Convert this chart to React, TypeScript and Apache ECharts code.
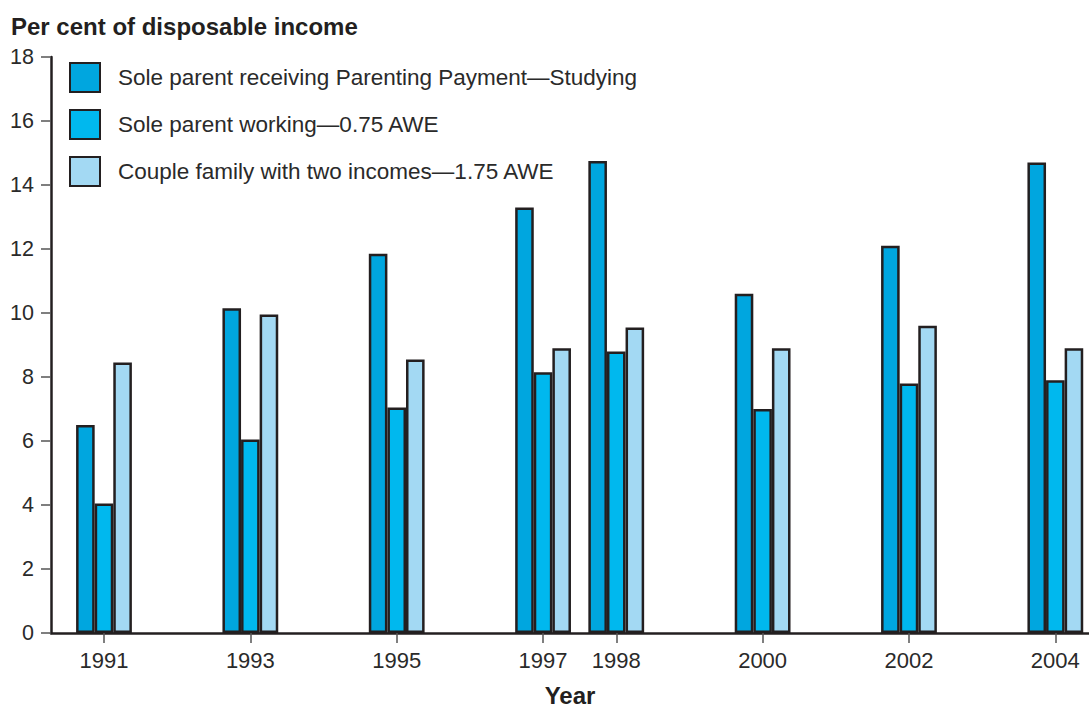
import React, { useEffect, useRef } from "react";
import * as echarts from "echarts";

const years = ["1991", "1993", "1995", "1997", "1998", "2000", "2002", "2004"];
// slot index of each year on the x axis (one empty slot between most years)
const slots = [0, 2, 4, 6, 7, 9, 11, 13];
const seriesNames = [
  "Sole parent receiving Parenting Payment\u2014Studying",
  "Sole parent working\u20140.75 AWE",
  "Couple family with two incomes\u20141.75 AWE",
];
const studying = [6.5, 10.15, 11.85, 13.3, 14.75, 10.6, 12.1, 14.7];
const working = [4.05, 6.05, 7.05, 8.15, 8.8, 7.0, 7.8, 7.9];
const couple = [8.45, 9.95, 8.55, 8.9, 9.55, 8.9, 9.6, 8.9];
const yTicks = [0, 2, 4, 6, 8, 10, 12, 14, 16, 18];

const colors = ["#00a6df", "#00b8ee", "#a3d9f3"];
const ink = "#231f20";
const font = "'Liberation Sans', Arial, Helvetica, sans-serif";

export default function App() {
  const ref = useRef<HTMLDivElement>(null);
  useEffect(() => {
    if (!ref.current) return;
    const chart = echarts.init(ref.current, null, { renderer: "svg" });
    const allSeries = [studying, working, couple];
    chart.setOption({
      animation: false,
      title: {
        text: "Per cent of disposable income",
        left: 11,
        top: 14,
        padding: 0,
        textStyle: { fontFamily: font, fontSize: 24, fontWeight: "bold", color: ink },
      },
      legend: {
        orient: "vertical",
        left: 69,
        top: 62,
        padding: 0,
        itemWidth: 30,
        itemHeight: 29,
        itemGap: 16,
        icon: "rect",
        textStyle: { fontFamily: font, fontSize: 22.5, color: "#2a2a2a", padding: [0, 0, 0, 13] },
        data: seriesNames,
      },
      grid: { left: 51, right: 0, top: 57, bottom: 76, containLabel: false, outerBoundsMode: "none" },
      xAxis: {
        type: "value",
        min: -0.724,
        max: 13.46,
        name: "Year",
        nameLocation: "middle",
        nameGap: 50,
        nameTextStyle: { fontFamily: font, fontSize: 24, fontWeight: "bold", color: ink, lineHeight: 24 },
        axisLine: { show: true, onZero: false, lineStyle: { color: ink, width: 2.5 } },
        axisTick: { show: true, length: 10, lineStyle: { color: "#555", width: 1.5 }, customValues: slots },
        axisLabel: {
          customValues: slots,
          margin: 16,
          fontFamily: font,
          fontSize: 22,
          color: "#2a2a2a",
          formatter: (v: number) => {
            const i = slots.indexOf(Math.round(v));
            return i >= 0 ? years[i] : "";
          },
        },
        splitLine: { show: false },
      },
      yAxis: {
        type: "value",
        min: 0,
        max: 18,
        interval: 2,
        axisLine: { show: true, onZero: false, lineStyle: { color: ink, width: 2.5 } },
        axisTick: { show: true, length: 10, lineStyle: { color: "#555", width: 1.5 } },
        axisLabel: {
          margin: 17,
          fontFamily: font,
          fontSize: 21.5,
          color: "#2a2a2a",
          formatter: (v: number) => (yTicks.includes(v) ? String(v) : ""),
        },
        splitLine: { show: false },
      },
      series: allSeries.map((vals, k) => ({
        type: "bar",
        name: seriesNames[k],
        barWidth: 18.6,
        barGap: "0%",
        itemStyle: { color: colors[k], borderColor: ink, borderWidth: 2.5 },
        data: vals.map((v, i) => [slots[i], v]),
      })),
    });
    return () => chart.dispose();
  }, []);
  return (
    <div
      ref={ref}
      style={{ position: "absolute", left: 0, top: 0, width: 1089, height: 709, background: "#fff" }}
    />
  );
}
